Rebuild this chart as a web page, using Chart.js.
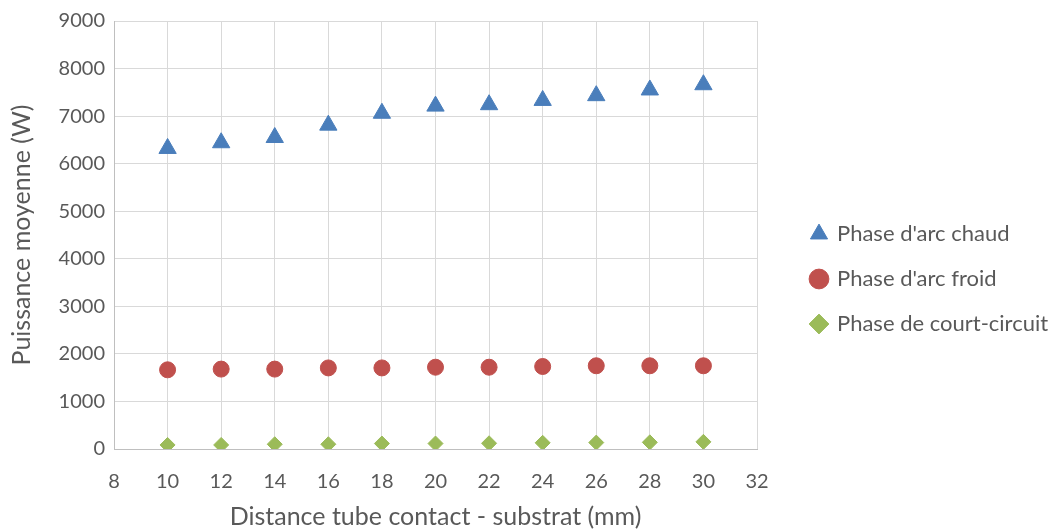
<!DOCTYPE html>
<html lang="fr">
<head>
  <meta charset="UTF-8" />
  <title>Puissance moyenne</title>
  <script src="https://cdn.jsdelivr.net/npm/chart.js"></script>
  <style>
    body { margin: 0; background: #fff; }
    #wrap { width: 1049px; height: 532px; }
  </style>
</head>
<body>
  <div id="wrap"><canvas id="chart"></canvas></div>
  <script>
    // Données
    const distances = [10, 12, 14, 16, 18, 20, 22, 24, 26, 28, 30]; // mm
    const arcChaud = [6320, 6440, 6550, 6810, 7060, 7210, 7240, 7330, 7430, 7550, 7660]; // W
    const arcFroid = [1665, 1680, 1680, 1705, 1705, 1720, 1720, 1735, 1750, 1750, 1750];
    const courtCircuit = [85, 85, 100, 100, 115, 115, 120, 130, 135, 140, 150];

    const toPoints = arr => arr.map((v, i) => ({ x: distances[i], y: v }));

    const gris = "#595959";
    const grille = "#d9d9d9";
    const police = "Lato";

    // légende plus large que ce que Chart.js accorde, puis décalée vers la droite
    const legendeLarge = {
      id: "legendeLarge",
      beforeLayout(chart) {
        const lg = chart.legend;
        if (lg && !lg._elargie) {
          const fit = lg.fit.bind(lg);
          lg.fit = function () { fit(); this.width = 292; };
          lg._elargie = true;
        }
      },
      afterLayout(chart) {
        const lg = chart.legend;
        if (!lg) return;
        lg.left += 32;
        lg.top += 9;
        lg.bottom += 9;
      }
    };

    new Chart(document.getElementById("chart"), {
      type: "scatter",
      data: {
        datasets: [{
          label: "Phase d'arc chaud",
          data: toPoints(arcChaud),
          pointStyle: "triangle",
          pointRadius: 10,
          backgroundColor: "#4a7ebb",
          borderColor: "#4a7ebb"
        }, {
          label: "Phase d'arc froid",
          data: toPoints(arcFroid),
          pointStyle: "circle",
          pointRadius: 8,
          backgroundColor: "#c0504d",
          borderColor: "#c0504d"
        }, {
          label: "Phase de court-circuit",
          data: toPoints(courtCircuit),
          pointStyle: "rectRot",
          pointRadius: 7.5,
          backgroundColor: "#9bbb59",
          borderColor: "#9bbb59"
        }]
      },
      options: {
        responsive: true,
        maintainAspectRatio: false,
        animation: false,
        layout: { padding: { left: 0, right: 0, top: 8, bottom: 0 } },
        plugins: {
          legend: {
            position: "right",
            labels: {
              usePointStyle: true,
              boxWidth: 14,
              boxHeight: 14,
              padding: 23,
              color: gris,
              font: { family: police, size: 22 }
            }
          },
          tooltip: { enabled: false }
        },
        scales: {
          x: {
            type: "linear",
            min: 8,
            max: 32,
            afterFit: s => { s.height = 83; },
            ticks: { stepSize: 2, color: gris, font: { family: police, size: 20 }, padding: 21 },
            grid: { color: grille, drawTicks: false },
            border: { color: "#bfbfbf" },
            title: {
              display: true,
              text: "Distance tube contact - substrat (mm)",
              color: gris,
              font: { family: police, size: 25 },
              padding: { top: 0, bottom: 0 }
            }
          },
          y: {
            min: 0,
            max: 9000,
            afterFit: s => { s.width = 114; },
            ticks: {
              stepSize: 1000,
              color: gris,
              font: { family: police, size: 20 },
              padding: 9,
              callback: v => String(v)
            },
            grid: { color: grille, drawTicks: false },
            border: { color: "#bfbfbf" },
            title: {
              display: true,
              text: "Puissance moyenne (W)",
              color: gris,
              font: { family: police, size: 25 },
              padding: { top: 7, bottom: 0 }
            }
          }
        }
      },
      plugins: [legendeLarge]
    });
  </script>
</body>
</html>
